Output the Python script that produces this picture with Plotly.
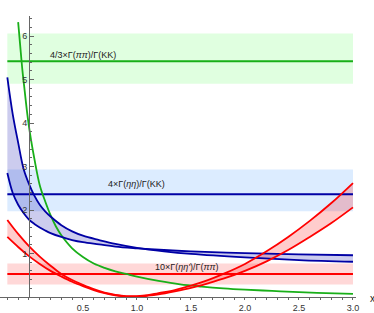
import plotly.graph_objects as go

# ---- data ----
band_x = [-0.2, 3.0]
band_center = [5.42, 2.36, 0.53]
band_low = [4.90, 1.97, 0.29]
band_high = [6.06, 2.93, 0.77]
band_labels = ["4/3×Γ(<i>ππ</i>)/Γ(KK)", "4×Γ(<i>ηη</i>)/Γ(KK)", "10×Γ(<i>ηη'</i>)/Γ(<i>ππ</i>)"]

green_x = [-0.1, -0.08, -0.06, -0.04, -0.02, 0.0, 0.02, 0.05, 0.1, 0.15, 0.2, 0.25, 0.3, 0.4, 0.5,
           0.6, 0.7, 0.8, 0.9, 1.0, 1.2, 1.4, 1.6, 1.8, 2.0, 2.25, 2.5, 2.75, 3.0]
green_y = [6.32, 5.75, 5.2, 4.75, 4.3, 3.92, 3.6, 3.18, 2.57, 2.2, 1.88, 1.62, 1.42, 1.12, 0.92,
           0.77, 0.67, 0.59, 0.53, 0.47, 0.37, 0.29, 0.24, 0.20, 0.17, 0.14, 0.11, 0.09, 0.07]

blue_x = [-0.2, -0.15, -0.1, -0.05, 0.0, 0.05, 0.1, 0.15, 0.2, 0.3, 0.4, 0.5, 0.65, 0.8, 1.0,
          1.25, 1.5, 2.0, 2.5, 3.0]
blue_a = [2.85, 2.39, 2.12, 1.93, 1.78, 1.68, 1.60, 1.53, 1.47, 1.38, 1.31, 1.26, 1.21, 1.16, 1.12,
          1.08, 1.05, 1.01, 0.98, 0.96]
blue_b = [5.05, 4.2, 3.55, 2.95, 2.60, 2.33, 2.12, 1.97, 1.85, 1.65, 1.51, 1.41, 1.31, 1.22, 1.13,
          1.05, 0.99, 0.91, 0.85, 0.81]

red_x = [-0.2, -0.1, 0.0, 0.1, 0.2, 0.3, 0.4, 0.5, 0.6, 0.7, 0.8, 0.9, 1.0, 1.1, 1.2, 1.35, 1.5,
         1.65, 1.8, 2.0, 2.2, 2.4, 2.6, 2.8, 3.0]
red_1 = [1.77, 1.45, 1.17, 0.93, 0.72, 0.53, 0.39, 0.28, 0.18, 0.10, 0.05, 0.02, 0.02, 0.04, 0.09,
         0.16, 0.26, 0.38, 0.53, 0.76, 1.05, 1.38, 1.75, 2.16, 2.62]
red_2 = [1.38, 1.15, 0.94, 0.76, 0.60, 0.47, 0.35, 0.25, 0.16, 0.09, 0.04, 0.01, 0.01, 0.03, 0.06,
         0.13, 0.21, 0.31, 0.42, 0.60, 0.82, 1.08, 1.38, 1.70, 2.06]

# ---- styles ----
line_colors = ["rgb(25,175,25)", "rgb(0,0,165)", "rgb(255,0,0)"]
band_fills = ["rgb(224,255,224)", "rgb(220,236,255)", "rgb(255,216,216)"]
blue_curve_fill = "rgba(0,0,170,0.2)"
red_curve_fill = "rgba(255,0,0,0.2)"

fig = go.Figure()

# horizontal bands
for lo, hi, fc in zip(band_low, band_high, band_fills):
    fig.add_trace(go.Scatter(x=band_x, y=[lo, lo], mode="lines", line=dict(width=0),
                             hoverinfo="skip"))
    fig.add_trace(go.Scatter(x=band_x, y=[hi, hi], mode="lines", line=dict(width=0),
                             fill="tonexty", fillcolor=fc, hoverinfo="skip"))

# curve bands (fills)
fig.add_trace(go.Scatter(x=blue_x, y=blue_a, mode="lines", line=dict(width=0, shape="spline"),
                         hoverinfo="skip"))
fig.add_trace(go.Scatter(x=blue_x, y=blue_b, mode="lines", line=dict(width=0, shape="spline"),
                         fill="tonexty", fillcolor=blue_curve_fill, hoverinfo="skip"))
fig.add_trace(go.Scatter(x=red_x, y=red_2, mode="lines", line=dict(width=0, shape="spline"),
                         hoverinfo="skip"))
fig.add_trace(go.Scatter(x=red_x, y=red_1, mode="lines", line=dict(width=0, shape="spline"),
                         fill="tonexty", fillcolor=red_curve_fill, hoverinfo="skip"))

# horizontal central lines
for c, lc in zip(band_center, line_colors):
    fig.add_trace(go.Scatter(x=band_x, y=[c, c], mode="lines", line=dict(color=lc, width=2)))

# curve lines
fig.add_trace(go.Scatter(x=green_x, y=green_y, mode="lines",
                         line=dict(color=line_colors[0], width=1.8, shape="spline")))
for yy in (blue_a, blue_b):
    fig.add_trace(go.Scatter(x=blue_x, y=yy, mode="lines",
                             line=dict(color=line_colors[1], width=1.8, shape="spline")))
for yy in (red_1, red_2):
    fig.add_trace(go.Scatter(x=red_x, y=yy, mode="lines",
                             line=dict(color=line_colors[2], width=1.8, shape="spline")))

# labels
label_pos = [(0.50, 5.57), (1.00, 2.59), (1.46, 0.68)]
for txt, (lx, ly) in zip(band_labels, label_pos):
    fig.add_annotation(x=lx, y=ly, text=txt, showarrow=False, xanchor="center", yanchor="middle",
                       font=dict(family="Liberation Sans, Arial, sans-serif", size=9, color="#222"))

fig.add_annotation(xref="paper", yref="paper", x=1.045, y=-0.007, text="x", showarrow=False,
                   xanchor="center", yanchor="middle",
                   font=dict(family="Liberation Sans, Arial, sans-serif", size=10, color="#222"))

xmin, xmax = -0.268, 3.028
fig.update_layout(
    width=374, height=313,
    margin=dict(l=0, r=18, t=16, b=16),
    plot_bgcolor="white", paper_bgcolor="white",
    showlegend=False,
    font=dict(family="Liberation Sans, Arial, sans-serif", size=9, color="#333"),
    xaxis=dict(range=[xmin, xmax], showgrid=False, zeroline=False, showline=True,
               linecolor="#666", linewidth=1,
               tickvals=[0.5, 1.0, 1.5, 2.0, 2.5, 3.0], ticktext=["0.5", "1.0", "1.5", "2.0", "2.5", "3.0"],
               ticks="outside", ticklen=2, tickcolor="#666",
               minor=dict(dtick=0.1, tick0=0, ticks="outside", ticklen=2, tickcolor="#666"),
               tickfont=dict(size=9, color="#333"), automargin=False),
    yaxis=dict(range=[0, 6.46], showgrid=False, zeroline=False, showline=True,
               linecolor="#666", linewidth=1, anchor="free", position=(0 - xmin) / (xmax - xmin),
               tickvals=[1, 2, 3, 4, 5, 6], ticks="inside", ticklen=4, tickcolor="#666",
               minor=dict(dtick=0.2, tick0=0, ticks="inside", ticklen=2, tickcolor="#666"),
               tickfont=dict(size=9, color="#333"), automargin=False),
)

fig.write_html("out.html", config={"displayModeBar": False},
               post_script="document.body.style.margin='0';document.body.style.overflow='hidden';")
